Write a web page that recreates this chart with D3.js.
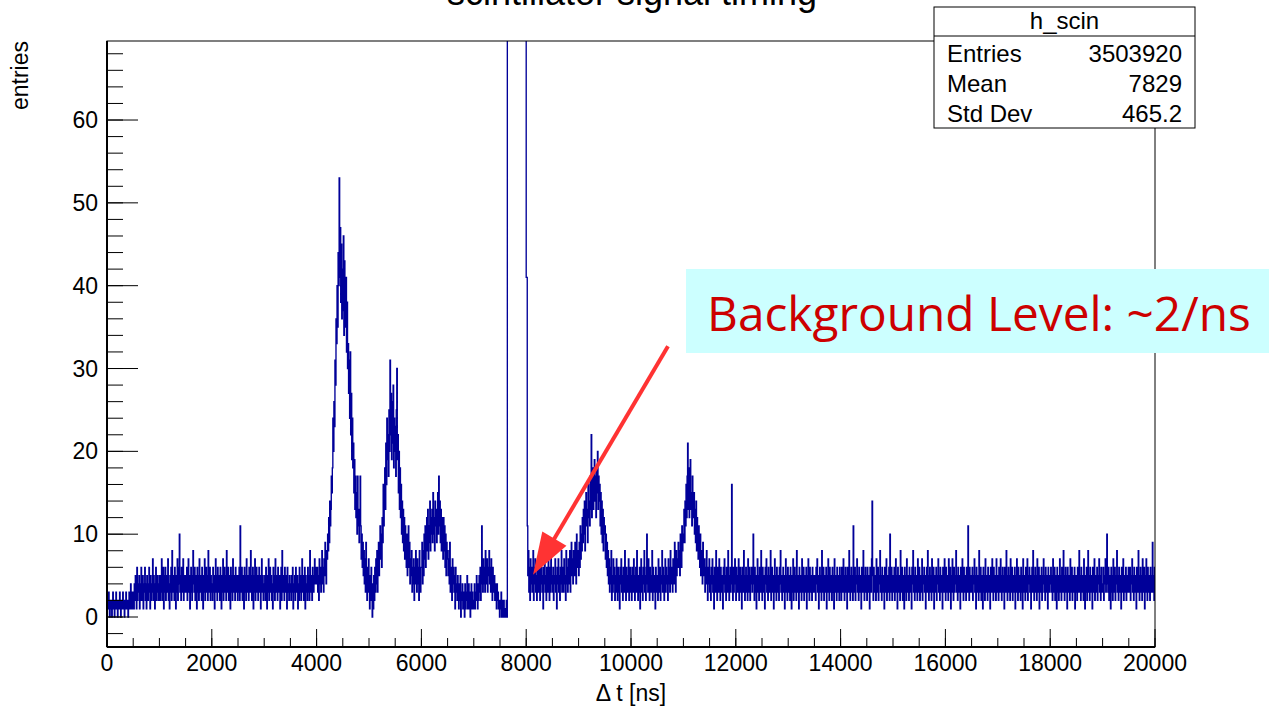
<!DOCTYPE html>
<html><head><meta charset="utf-8">
<script src="https://cdn.jsdelivr.net/npm/d3@7"></script>
<style>body{margin:0;background:#fff}svg{display:block}</style>
</head><body>
<svg id="c" width="1269" height="714"></svg>
<script>
// ---------------- data ----------------
const chartTitle = "scintillator signal timing";
const xTitle = "\u0394 t [ns]";
const yTitle = "entries";
const xDomain = [0, 20000];
const yDomain = [-3.62, 69.54];
const binWidth = 10;      // ns
const rowSpan = 500;      // ns covered by each row below
// histogram counts, one row per 500 ns (50 bins of 10 ns)
const countsRows = [
  [0,2,1,3,1,0,2,1,2,0, 1,3,2,1,0,2,1,3,1,2, 0,1,2,1,3,2,0,1,2,1, 3,1,2,0,2,1,3,1,2,1, 0,2,3,1,2,4,1,2,3,1], // 0
  [3,1,4,2,5,3,1,6,2,4, 3,5,1,4,2,6,3,2,5,1, 4,3,6,2,4,1,5,3,2,4, 6,3,1,5,2,4,3,7,2,5, 3,1,4,6,2,5,3,4,2,5], // 500
  [4,2,5,3,7,2,4,6,1,5, 3,6,2,4,5,3,7,2,4,1, 5,3,6,2,8,4,3,5,2,6, 4,1,5,3,7,2,6,4,10,3, 5,2,6,4,3,7,2,5,3,4], // 1000
  [5,3,6,2,4,7,3,5,1,4, 6,3,2,5,8,4,3,6,2,5, 4,1,6,3,5,2,7,4,3,5, 2,6,4,1,5,3,7,2,4,6, 3,5,2,8,4,3,6,2,5,3], // 1500
  [4,2,6,3,5,1,4,7,3,5, 2,6,4,3,5,2,6,4,1,5, 3,7,2,4,6,3,5,2,8,4, 3,6,2,5,4,1,6,3,5,2, 7,4,3,5,2,6,4,3,5,2], // 2000
  [5,3,6,2,11,4,3,6,2,5, 4,1,6,3,5,2,7,4,3,5, 2,6,4,3,8,5,2,4,6,1, 5,3,7,2,4,6,3,5,2,4, 6,3,5,1,4,7,3,5,2,4], // 2500
  [3,5,2,6,4,1,5,3,7,2, 4,6,3,5,2,4,1,6,3,5, 2,7,4,3,5,2,6,4,3,5, 1,4,6,2,8,4,3,5,2,6, 4,3,5,1,6,3,4,2,5,3], // 3000
  [4,2,5,3,6,1,4,3,5,2, 6,4,3,5,1,4,2,6,3,5, 2,4,7,3,5,2,4,6,1,5, 3,4,2,6,3,5,2,8,4,3, 5,2,6,4,3,5,7,4,6,5], // 3500
  [4,6,3,5,2,7,4,6,3,5, 8,4,6,3,7,5,9,6,4,8, 7,10,8,12,9,14,11,13,17,15, 18,24,20,26,23,31,28,36,33,40, 35,44,40,53,41,47,38,45,36,42], // 4000
  [37,46,34,43,39,35,41,32,38,30, 33,27,31,24,32,22,27,19,24,18, 21,15,19,13,17,12,15,10,17,11, 13,9,12,17,11,7,10,6,9,5, 8,4,7,3,9,5,2,6,3,7], // 4500
  [4,1,5,2,6,3,0,4,1,5, 2,6,3,7,4,8,3,6,9,5, 8,11,7,10,6,12,9,16,11,14, 18,13,21,16,24,19,22,17,25,20, 31,22,27,19,26,21,28,18,24,20], // 5000
  [23,17,25,30,19,22,15,20,13,18, 12,16,10,14,9,13,8,12,7,11, 9,6,10,5,8,11,6,9,4,7, 5,8,3,6,4,7,2,6,4,8, 5,3,7,4,6,2,8,5,3,6], // 5500
  [6,9,4,8,5,10,7,11,6,9, 12,8,13,7,11,9,14,8,12,10, 13,9,15,10,12,8,14,11,13,9, 12,15,10,17,11,14,9,13,8,12, 10,7,12,8,11,6,10,5,9,7], // 6000
  [8,5,7,4,9,3,6,5,2,7, 4,6,3,5,1,6,3,4,2,5, 3,1,4,2,5,0,3,2,4,1, 3,2,0,4,1,3,2,5,1,2, 4,1,3,0,2,4,1,3,2,1], // 6500
  [2,4,1,3,2,5,3,1,4,2, 5,3,6,2,4,11,5,3,7,4, 6,3,8,5,4,7,3,6,5,8, 4,6,3,7,5,2,6,4,3,5, 2,4,3,1,4,2,3,1,2,0], // 7000
  [2,1,3,0,2,1,0,2,1,0, 1,0,2,0,70000,88000,94000,97000,96000,98000,
   95000,99000,97000,96000,94000,98000,97000,95000,96000,99000,
   98000,97000,95000,96000,97000,94000,96000,98000,95000,97000,
   96000,93000,95000,97000,94000,96000,95000,92000,93000,89000], // 7500
  [41,41,11,5,8,3,6,2,7,4, 6,3,5,8,2,6,4,7,3,5, 2,6,4,3,7,5,2,8,4,6, 3,5,1,6,4,7,3,5,2,6, 4,3,7,5,2,6,3,8,4,5], // 8000
  [3,6,2,5,4,7,3,5,1,6, 4,7,3,5,2,6,4,8,3,5, 6,3,7,4,5,2,8,4,6,3, 7,5,4,8,3,6,9,5,7,4, 8,6,5,9,7,4,10,6,8,7], // 8500
  [5,9,6,11,7,10,8,12,9,13, 10,14,8,12,15,11,13,9,16,12, 14,11,17,13,22,12,15,18,13,16, 19,14,17,12,18,15,20,13,17,14, 16,11,15,10,14,9,13,8,12,10], // 9000
  [11,7,10,6,9,5,8,4,7,3, 6,4,8,2,5,3,7,4,6,2, 5,3,7,4,2,6,3,5,1,6, 4,7,3,5,2,6,4,3,8,5, 2,6,4,3,5,7,2,4,6,3], // 9500
  [5,2,6,4,3,7,5,2,4,6, 3,8,4,2,5,3,6,1,4,7, 3,5,2,6,4,8,3,5,2,6, 10,4,3,7,5,2,6,4,3,5, 8,2,6,4,3,5,1,6,4,3], // 10000
  [5,2,7,4,3,6,2,5,4,8, 3,6,4,2,5,7,3,6,4,5, 2,7,4,6,3,8,5,4,6,3, 7,5,4,9,6,3,8,5,7,6, 9,6,8,5,10,7,6,11,8,9], // 10500
  [10,13,9,14,11,16,12,17,21,13, 18,12,16,19,13,15,11,17,12,14, 15,10,13,9,14,8,12,10,7,11, 9,6,10,5,8,7,4,9,6,5, 7,3,6,4,8,5,2,6,4,7], // 11000
  [3,5,2,6,4,7,3,5,1,6, 4,3,8,5,2,6,4,3,7,5, 2,6,4,3,5,1,6,4,7,3, 5,2,6,4,3,8,5,2,4,6, 3,5,16,4,2,6,3,5,7,4], // 11500
  [2,6,4,3,5,7,2,4,6,3, 5,1,6,4,3,8,5,2,4,6, 3,5,2,7,4,3,6,2,5,4, 6,3,5,10,4,2,6,3,5,1, 4,7,3,5,2,6,4,3,8,5], // 12000
  [2,6,4,3,5,1,6,4,7,3, 5,2,6,4,3,5,8,2,4,6, 3,5,1,4,7,3,5,2,6,4, 3,5,2,6,4,8,3,5,2,4, 6,3,5,1,4,7,3,5,2,6], // 12500
  [4,3,5,2,6,4,1,5,3,7, 2,4,6,3,5,2,8,4,3,5, 1,6,4,3,5,2,7,4,3,6, 2,5,4,3,6,1,5,3,7,4, 2,6,3,5,4,2,6,3,5,4], // 13000
  [3,5,2,6,4,7,3,5,1,4, 6,3,5,2,8,4,3,6,2,5, 4,3,6,1,5,3,7,4,2,6, 3,5,4,2,6,3,5,1,7,4, 3,5,2,6,4,3,5,2,6,3], // 13500
  [5,2,6,4,3,7,5,2,4,6, 3,5,1,6,4,3,8,5,2,4, 6,3,5,2,11,4,3,6,2,5, 4,7,3,5,2,6,4,3,5,1, 6,4,3,8,5,2,4,6,3,5], // 14000
  [2,6,4,3,5,1,6,4,3,7, 14,5,2,6,4,3,5,2,7,4, 3,6,2,5,4,8,3,5,2,6, 4,3,5,1,6,4,3,7,2,5, 4,3,6,2,10,5,3,6,2,4], // 14500
  [5,3,6,2,4,7,3,5,1,6, 4,3,5,2,8,4,3,6,2,5, 4,1,6,3,5,2,7,4,3,5, 2,6,4,3,5,1,6,4,8,3, 5,2,6,4,3,5,2,7,4,3], // 15000
  [6,2,5,4,3,7,2,5,4,6, 3,5,1,4,6,3,8,5,2,4, 6,3,5,2,7,4,3,6,1,5, 4,3,6,2,5,4,7,3,5,2, 6,4,3,5,1,6,4,3,7,5], // 15500
  [2,6,4,3,5,2,7,4,3,6, 1,5,3,7,4,2,6,3,5,4, 8,3,5,2,6,4,3,5,1,6, 4,3,7,5,2,6,4,3,5,2, 6,4,3,11,5,2,6,3,4,5], // 16000
  [3,6,2,5,4,7,3,5,1,6, 4,3,5,2,8,4,3,6,2,5, 4,1,6,3,5,2,7,4,3,5, 2,6,4,3,5,1,6,4,3,7, 5,2,6,4,3,5,2,7,4,3], // 16500
  [5,2,6,4,3,7,5,2,4,6, 3,5,1,6,4,3,8,5,2,4, 6,3,5,2,7,4,3,6,2,5, 4,3,6,1,5,3,7,4,2,6, 3,5,4,2,6,3,5,1,7,4], // 17000
  [3,5,2,6,4,3,7,2,5,4, 6,3,5,1,4,6,3,8,5,2, 4,6,3,5,2,7,4,3,6,1, 5,4,3,6,2,5,4,7,3,5, 2,6,4,3,5,1,6,4,3,5], // 17500
  [4,6,3,5,2,7,4,3,6,2, 5,4,1,6,3,5,2,4,7,3, 5,2,6,4,3,8,5,2,4,6, 3,5,1,6,4,3,5,2,7,4, 3,6,2,5,4,3,6,1,5,3], // 18000
  [5,2,6,3,4,8,3,5,2,6, 4,3,5,2,7,4,1,5,3,6, 2,4,8,3,5,2,6,4,3,5, 1,6,4,3,7,2,5,4,3,6, 2,5,4,7,3,5,2,6,4,3], // 18500
  [3,6,2,5,4,7,3,5,10,4, 3,6,2,5,4,1,6,3,5,2, 7,4,3,6,2,5,4,8,3,5, 2,6,4,3,5,1,6,4,3,7, 2,5,4,3,6,2,5,4,3,6], // 19000
  [4,3,6,2,5,4,7,3,5,2, 6,4,3,5,1,6,4,3,8,5, 2,4,6,3,5,2,7,4,3,6, 1,5,3,7,4,2,6,3,5,4, 2,6,4,3,5,9,3,5,2,6]  // 19500
];
const xMajorTicks = [0,2000,4000,6000,8000,10000,12000,14000,16000,18000,20000];
const yMajorTicks = [0,10,20,30,40,50,60];
const statsTitle = "h_scin";
const statsNames = ["Entries","Mean","Std Dev"];
const statsValues = ["3503920","7829","465.2"];
const noteText = "Background Level: ~2/ns";
const arrowFrom = [10706, 32.7];   // data coords
const arrowTo = [8130, 5.1];

// ---------------- layout ----------------
const F = {l:107, r:1155, t:41, b:647};
const svg = d3.select("#c");
const x = d3.scaleLinear(xDomain, [F.l, F.r]);
const y = d3.scaleLinear(yDomain, [F.b, F.t]);
const font = "'Liberation Sans', Arial, Helvetica, sans-serif";
const navy = "#000099";

// histogram points
const pts = [];
countsRows.forEach((row, r) => {
  row.forEach((v, j) => pts.push([r*rowSpan + j*binWidth, v]));
});
pts.push([xDomain[1], pts[pts.length-1][1]]);

svg.append("defs").append("clipPath").attr("id","clip")
  .append("rect").attr("x",F.l).attr("y",F.t).attr("width",F.r-F.l).attr("height",F.b-F.t);

// histogram
const line = d3.line().x(d=>x(d[0])).y(d=>y(d[1])).curve(d3.curveStepAfter);
svg.append("path").datum(pts).attr("clip-path","url(#clip)")
  .attr("d", line).attr("fill","none").attr("stroke",navy).attr("stroke-width",1.35);

// frame
svg.append("rect").attr("x",F.l).attr("y",F.t).attr("width",F.r-F.l).attr("height",F.b-F.t)
  .attr("fill","none").attr("stroke","#000").attr("stroke-width",1);

// x axis
const gx = svg.append("g");
gx.append("line").attr("x1",F.l).attr("x2",F.r).attr("y1",F.b).attr("y2",F.b)
  .attr("stroke","#000").attr("stroke-width",2);
const xMinor = x.ticks(40);
gx.selectAll("line.mn").data(xMinor).join("line").attr("class","mn")
  .attr("x1",d=>x(d)).attr("x2",d=>x(d)).attr("y1",F.b).attr("y2",F.b-9)
  .attr("stroke","#000").attr("stroke-width",1);
gx.selectAll("line.mj").data(xMajorTicks).join("line").attr("class","mj")
  .attr("x1",d=>x(d)).attr("x2",d=>x(d)).attr("y1",F.b).attr("y2",F.b-18)
  .attr("stroke","#000").attr("stroke-width",1);
gx.selectAll("text").data(xMajorTicks).join("text")
  .attr("x",d=>x(d)).attr("y",671).attr("text-anchor","middle")
  .attr("font-family",font).attr("font-size",23).text(d=>d);
svg.append("text").attr("x",(F.l+F.r)/2).attr("y",701).attr("text-anchor","middle")
  .attr("font-family",font).attr("font-size",23).text(xTitle);

// y axis
const gy = svg.append("g");
gy.append("line").attr("x1",F.l).attr("x2",F.l).attr("y1",F.t).attr("y2",F.b)
  .attr("stroke","#000").attr("stroke-width",2);
const yMinor = d3.range(-2, 69, 2);
gy.selectAll("line.mn").data(yMinor).join("line").attr("class","mn")
  .attr("x1",F.l).attr("x2",F.l+16).attr("y1",d=>y(d)).attr("y2",d=>y(d))
  .attr("stroke","#000").attr("stroke-width",1);
gy.selectAll("line.mj").data(yMajorTicks).join("line").attr("class","mj")
  .attr("x1",F.l).attr("x2",F.l+31).attr("y1",d=>y(d)).attr("y2",d=>y(d))
  .attr("stroke","#000").attr("stroke-width",1);
gy.selectAll("text").data(yMajorTicks).join("text")
  .attr("x",98).attr("y",d=>y(d)+8).attr("text-anchor","end")
  .attr("font-family",font).attr("font-size",23).text(d=>d);
svg.append("text").attr("transform","translate(28,41) rotate(-90)").attr("text-anchor","end")
  .attr("font-family",font).attr("font-size",23).text(yTitle);

// title (partly off-canvas as in the original)
svg.append("text").attr("x",632).attr("y",5).attr("text-anchor","middle")
  .attr("font-family",font).attr("font-size",36).text(chartTitle);

// stats box
const S = {l:934, r:1195, t:7, b:128, sep:36};
svg.append("rect").attr("x",S.l).attr("y",S.t).attr("width",S.r-S.l).attr("height",S.b-S.t)
  .attr("fill","#fff").attr("stroke","#000").attr("stroke-width",1);
svg.append("line").attr("x1",S.l).attr("x2",S.r).attr("y1",S.sep).attr("y2",S.sep)
  .attr("stroke","#000").attr("stroke-width",1);
svg.append("text").attr("x",(S.l+S.r)/2).attr("y",29).attr("text-anchor","middle")
  .attr("font-family",font).attr("font-size",24).text(statsTitle);
statsNames.forEach((n,i)=>{
  const yy = 62 + i*30;
  svg.append("text").attr("x",947).attr("y",yy).attr("font-family",font).attr("font-size",24).text(n);
  svg.append("text").attr("x",1182).attr("y",yy).attr("text-anchor","end")
    .attr("font-family",font).attr("font-size",24).text(statsValues[i]);
});

// annotation box
svg.append("rect").attr("x",686).attr("y",269).attr("width",583).attr("height",84).attr("fill","#ccffff");
svg.append("text").attr("x",707).attr("y",331).attr("font-family","'Open Sans', 'Noto Sans', sans-serif")
  .attr("font-size",47.8).attr("fill","#cc0000").text(noteText);

// arrow
const p0 = [x(arrowFrom[0]), y(arrowFrom[1])], p1 = [x(arrowTo[0]), y(arrowTo[1])];
const dx = p1[0]-p0[0], dy = p1[1]-p0[1], L = Math.hypot(dx,dy);
const ux = dx/L, uy = dy/L, px = -uy, py = ux;
const headLen = 42, headW = 14;
const base = [p1[0]-ux*headLen, p1[1]-uy*headLen];
svg.append("line").attr("x1",p0[0]).attr("y1",p0[1]).attr("x2",base[0]+ux*4).attr("y2",base[1]+uy*4)
  .attr("stroke","#ff3333").attr("stroke-width",4);
svg.append("path").attr("d", d3.line()([p1, [base[0]+px*headW, base[1]+py*headW], [base[0]-px*headW, base[1]-py*headW]]) + "Z")
  .attr("fill","#ff3333");
</script>
</body></html>
